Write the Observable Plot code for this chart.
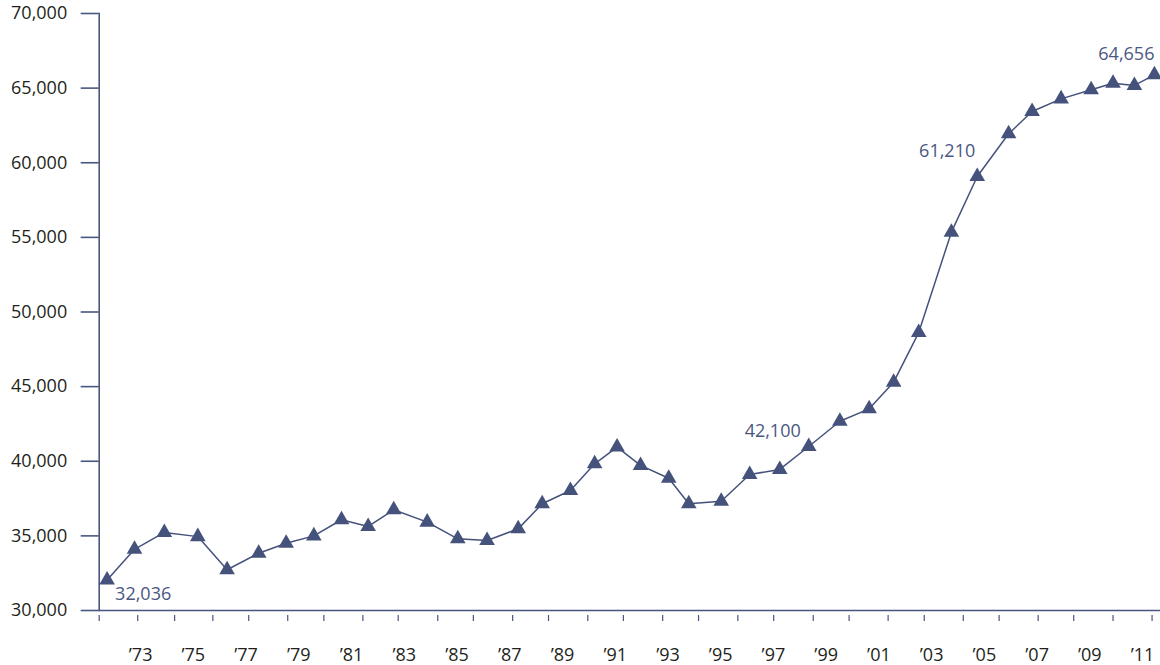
<!DOCTYPE html>
<html><head><meta charset="utf-8">
<script src="https://cdn.jsdelivr.net/npm/d3@7"></script>
<script src="https://cdn.jsdelivr.net/npm/@observablehq/plot@0.6"></script>
<style>body{margin:0;background:#fff;} #chart svg{display:block;}</style>
</head><body><div id="chart"></div>
<script>
// x position of each point (decimal year)
const pointYears = [1971.73,1972.77,1973.90,1975.17,1976.28,1977.48,1978.52,1979.57,1980.62,1981.63,
  1982.60,1983.87,1985.03,1986.14,1987.32,1988.23,1989.30,1990.22,1991.07,1991.96,
  1993.03,1993.79,1995.02,1996.10,1997.24,1998.34,1999.52,2000.63,2001.56,2002.51,
  2003.75,2004.73,2005.92,2006.81,2007.91,2009.05,2009.88,2010.69,2011.45];
const pointValues = [32036,34100,35230,34950,32730,33840,34510,35000,36080,35630,
  36750,35920,34800,34690,35470,37150,38040,39830,40950,39720,
  38860,37150,37320,39110,39450,40990,42680,43510,45300,48620,
  55350,59080,61940,63430,64280,64890,65330,65180,65890];
const xTickYears = [1971.43,1972.89,1974.29,1975.74,1977.10,1978.58,1979.95,1981.43,1982.77,1984.27,
  1985.62,1987.11,1988.47,1989.96,1991.31,1992.80,1994.16,1995.65,1997.01,1998.51,
  1999.87,2001.35,2002.72,2004.20,2005.56,2007.04,2008.39,2009.88,2011.36];
const xLabelYears = [1973,1975,1977,1979,1981,1983,1985,1987,1989,1991,1993,1995,1997,1999,2001,2003,2005,2007,2009,2011];
const yTicks = [30000,35000,40000,45000,50000,55000,60000,65000,70000];
const noteIndex = [0, 25, 31, 38];
const noteText = ["32,036", "42,100", "61,210", "64,656"];

const data = pointYears.map((x, i) => ({x, y: pointValues[i]}));
const axisColor = "#4a5581";
const lineColor = "#45527b";
const textColor = "#231f20";
const noteColor = "#4a5783";

const noteStyle = [
  {textAnchor: "start", dx: 8, dy: 14},
  {textAnchor: "end", dx: -8, dy: -15},
  {textAnchor: "end", dx: -2, dy: -25},
  {textAnchor: "end", dx: 0, dy: -21}
];
const noteMarks = noteIndex.map((idx, k) => Plot.text([data[idx]], {
  x: "x", y: "y", text: () => noteText[k], fill: noteColor, fontSize: 18, ...noteStyle[k]
}));

const chart = Plot.plot({
  width: 1160, height: 665,
  marginLeft: 98.7, marginRight: 0, marginTop: 13, marginBottom: 55,
  x: {domain: [1971.43, 2011.68]},
  y: {domain: [30000, 70000]},
  style: {fontFamily: "'Open Sans', sans-serif", fontSize: "18px", color: textColor, background: "#fff"},
  marks: [
    Plot.axisY({ticks: yTicks, tickSize: 18, tickPadding: 14, tickFormat: d3.format(","),
      stroke: axisColor, fill: textColor, strokeWidth: 1.6, label: null, fontSize: 18}),
    Plot.axisX({ticks: xTickYears, tickSize: 6, tickFormat: () => "", dy: 5,
      stroke: axisColor, strokeWidth: 1.2, label: null}),
    Plot.axisX({ticks: xLabelYears, tickSize: 0, tickPadding: 38,
      tickFormat: d => "\u2019" + String(d).slice(2), fill: textColor, label: null, fontSize: 18}),
    Plot.frame({anchor: "left", stroke: axisColor, strokeWidth: 1.6}),
    Plot.frame({anchor: "bottom", stroke: axisColor, strokeWidth: 1.6}),
    Plot.line(data, {x: "x", y: "y", stroke: lineColor, strokeWidth: 1.5}),
    Plot.dot(data, {x: "x", y: "y", symbol: "triangle", r: 5.8, fill: lineColor, stroke: "none"}),
    ...noteMarks
  ]
});
document.getElementById("chart").appendChild(chart);
</script>
</body></html>
